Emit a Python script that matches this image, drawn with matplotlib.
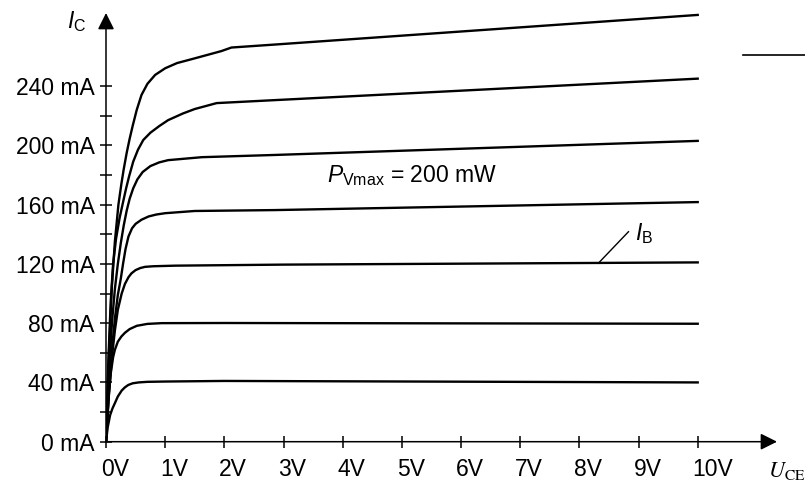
import matplotlib.pyplot as plt
from matplotlib.transforms import ScaledTranslation

plt.rcParams['font.family'] = ['Liberation Sans', 'DejaVu Sans']
plt.rcParams['mathtext.fontset'] = 'custom'
plt.rcParams['mathtext.rm'] = 'Liberation Sans'
plt.rcParams['mathtext.it'] = 'Liberation Sans:italic'

# Kennlinien I_C(U_CE) fuer verschiedene I_B (von oben nach unten)
u_1 = [0, 0.05, 0.1, 0.15, 0.21, 0.26, 0.3, 0.35, 0.4, 0.45, 0.52, 0.6, 0.7,
       0.83, 1.0, 1.2, 1.5, 1.95, 2.12, 2.85, 10]
i_1 = [0, 60, 105, 135, 160, 174, 184, 195, 204.5, 213, 224, 234, 241.5,
       247.5, 252, 255.5, 258.7, 263.6, 266, 268, 288]

u_2 = [0, 0.04, 0.08, 0.12, 0.17, 0.23, 0.29, 0.34, 0.39, 0.46, 0.54, 0.63,
       0.75, 0.9, 1.05, 1.3, 1.5, 1.87, 2.85, 10]
i_2 = [0, 55, 95, 120, 137, 151, 162, 171, 179, 189, 197, 203.6,
       208.5, 213, 217, 221.5, 224.5, 228.5, 230.5, 245]

u_3 = [0, 0.05, 0.1, 0.15, 0.2, 0.25, 0.3, 0.35, 0.4, 0.46, 0.53, 0.62, 0.75,
       0.9, 1.05, 1.62, 2.85, 10]
i_3 = [0, 45, 80, 103, 120, 134, 146, 156, 164, 171, 177, 182, 186,
       188.5, 190, 192, 193.5, 203]

u_4 = [0, 0.05, 0.1, 0.15, 0.2, 0.25, 0.29, 0.33, 0.38, 0.44, 0.5, 0.6, 0.72,
       0.85, 1.0, 1.5, 2.85, 10]
i_4 = [0, 35, 62, 83, 99, 110, 120.5, 130, 138.5, 144, 147, 149.8, 152,
       153.3, 154.2, 155.7, 156.3, 161.7]

u_5 = [0, 0.05, 0.1, 0.15, 0.2, 0.265, 0.32, 0.38, 0.43, 0.5, 0.58, 0.66, 0.8,
       1.17, 3, 10]
i_5 = [0, 32, 57, 75, 89, 100, 106.5, 111, 113.6, 115.8, 117.2, 118, 118.4,
       118.8, 119.5, 121]

u_6 = [0, 0.04, 0.08, 0.12, 0.15, 0.2, 0.26, 0.32, 0.4, 0.52, 0.7, 0.94, 2, 10]
i_6 = [0, 28, 46, 57, 62, 67.5, 71, 73.5, 76, 78.2, 79.5, 80, 80.1, 79.6]

u_7 = [0, 0.03, 0.07, 0.11, 0.15, 0.2, 0.265, 0.32, 0.377, 0.45, 0.55, 0.7,
       1.0, 2, 10]
i_7 = [0, 10, 18, 22.5, 26, 30.5, 34.5, 36.7, 38.3, 39.4, 40, 40.4,
       40.6, 41, 40]

curves = [(u_1, i_1), (u_2, i_2), (u_3, i_3), (u_4, i_4),
          (u_5, i_5), (u_6, i_6), (u_7, i_7)]

x_ticks = list(range(0, 11))
x_labels = [f'{v}V' for v in x_ticks]
y_ticks = [0, 40, 80, 120, 160, 200, 240]
y_labels = [f'{v} mA' for v in y_ticks]
y_minor = [20, 60, 100, 140, 180, 220]

fig = plt.figure(figsize=(8.05, 4.82), dpi=100)
ax = fig.add_axes([106 / 805, 40.3 / 482, 671 / 805, 428.7 / 482])
ax.set_xlim(0, 11.34)
ax.set_ylim(0, 289.3)

for u, i in curves:
    ax.plot(u, i, color='black', lw=1.7, solid_joinstyle='round')

# Achsen mit Pfeilen
for s in ax.spines.values():
    s.set_visible(False)
arrow = dict(arrowstyle='-|>,head_length=0.5,head_width=0.25', color='black',
             lw=1.1, mutation_scale=20, shrinkA=0, shrinkB=0)
ax.annotate('', xy=(1, 0), xytext=(0, 0), xycoords='axes fraction',
            arrowprops=arrow, annotation_clip=False)
ax.annotate('', xy=(0, 1), xytext=(0, 0), xycoords='axes fraction',
            arrowprops=arrow, annotation_clip=False)

ax.set_xticks(x_ticks, x_labels)
ax.set_yticks(y_ticks, y_labels)
ax.set_yticks(y_minor, minor=True)
ax.tick_params(axis='both', which='both', direction='inout', length=8.5,
               width=1.1, labelsize=16.5)
ax.tick_params(axis='x', pad=7.5)
ax.tick_params(axis='y', pad=4)

# x-Beschriftungen links am Strich ausgerichtet
shift = ScaledTranslation(-5 / 100, 0, fig.dpi_scale_trans)
for lab in ax.get_xticklabels():
    lab.set_horizontalalignment('left')
    lab.set_transform(lab.get_transform() + shift)

ax.text(-0.5, 279, r'$I_\mathrm{C}$', fontsize=16.5, ha='center', va='baseline')
ax.text(11.19, -23.5, r'$U_\mathrm{CE}$', fontsize=16, ha='left', va='baseline',
        math_fontfamily='stix', clip_on=False)
ax.text(3.73, 175.4, r'$P_\mathrm{Vmax}$ = 200 mW', fontsize=16.5,
        ha='left', va='baseline')
ax.plot([8.32, 8.83], [120.4, 141.7], color='black', lw=1.0)
ax.text(8.94, 136.1, r'$I_\mathrm{B}$', fontsize=16.5, ha='left', va='baseline')

# kurzer Strich rechts oben
ax.plot([10.77, 11.81], [260.9, 260.9], color='black', lw=1.2, clip_on=False)

fig.savefig('out.png', dpi=100)
